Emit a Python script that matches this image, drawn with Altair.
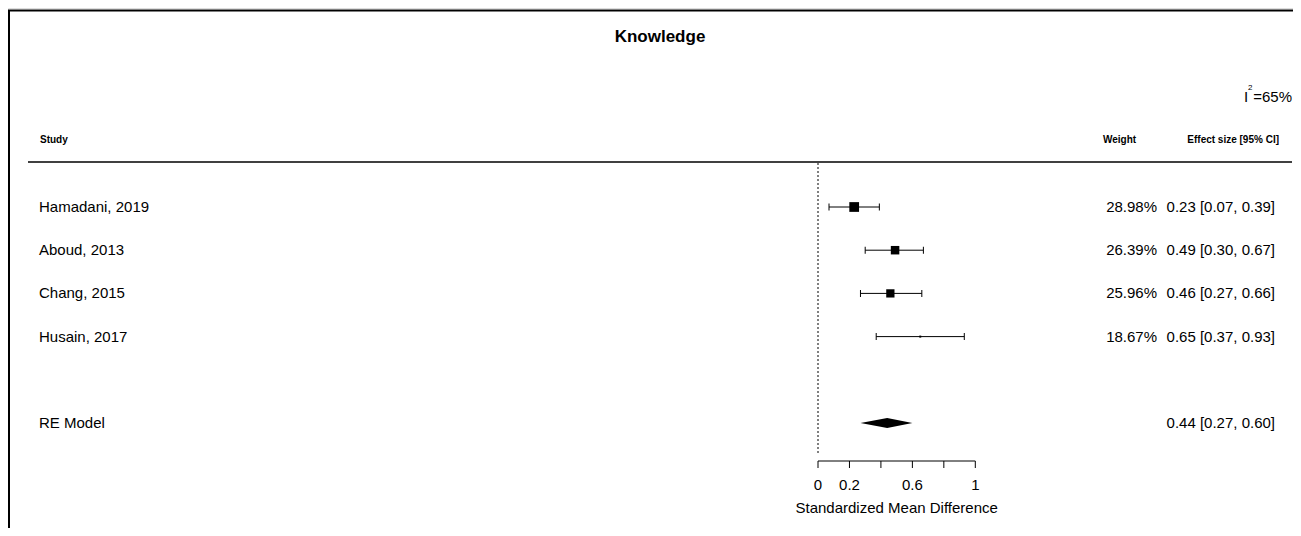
import altair as alt
import pandas as pd

# ---------------- data ----------------
studies = ["Hamadani, 2019", "Aboud, 2013", "Chang, 2015", "Husain, 2017"]
weights = [28.98, 26.39, 25.96, 18.67]
effects = [0.23, 0.49, 0.46, 0.65]
ci_low = [0.07, 0.30, 0.27, 0.37]
ci_high = [0.39, 0.67, 0.66, 0.93]
rows = [1, 2, 3, 4]

re_label = "RE Model"
re_effect = 0.44
re_low = 0.27
re_high = 0.60
re_row = 6

i2_value = 65
tick_values = [0, 0.2, 0.4, 0.6, 0.8, 1]
tick_labels = ["0", "0.2", "", "0.6", "", "1"]

# ---------------- layout (pixels inside plot area) ----------------
W, H = 1285, 520
X0_PX, UNIT_PX = 810.0, 157.3          # where x=0 sits, px per unit
ROW1_PX, ROW_STEP = 199.0, 43.2        # y of row 1, px between rows
FONT = "Liberation Sans"

x_scale = alt.Scale(domain=[-X0_PX / UNIT_PX, (W - X0_PX) / UNIT_PX], nice=False, zero=False)
y_scale = alt.Scale(domain=[1 - ROW1_PX / ROW_STEP, 1 + (H - ROW1_PX) / ROW_STEP],
                    reverse=True, nice=False, zero=False)

df = pd.DataFrame({
    "study": studies, "weight": weights, "est": effects,
    "lo": ci_low, "hi": ci_high, "row": rows,
})
df["wtxt"] = [f"{w:.2f}%" for w in weights]
df["citxt"] = [f"{e:.2f} [{l:.2f}, {h:.2f}]" for e, l, h in zip(effects, ci_low, ci_high)]

re_df = pd.DataFrame({"study": [re_label], "row": [re_row],
                      "citxt": [f"{re_effect:.2f} [{re_low:.2f}, {re_high:.2f}]"]})

half = 5.0 / ROW_STEP
dia_df = pd.DataFrame({
    "x": [re_low, re_effect, re_high],
    "top": [re_row, re_row - half, re_row],
    "bot": [re_row, re_row + half, re_row],
})

ticks_df = pd.DataFrame({"t": tick_values, "lab": tick_labels})

X = lambda f: alt.X(f, type="quantitative", scale=x_scale, axis=None)
Y = lambda f: alt.Y(f, type="quantitative", scale=y_scale, axis=None)

base = alt.Chart(df)

whisk = base.mark_rule(color="black", strokeWidth=1).encode(x=X("lo"), x2="hi", y=Y("row"))
caps = base.transform_fold(["lo", "hi"], as_=["k", "v"]).mark_tick(
    orient="vertical", size=7, thickness=1, color="black", opacity=1
).encode(x=X("v"), y=Y("row"))
squares = base.mark_square(color="black", opacity=1, filled=True).encode(
    x=X("est"), y=Y("row"),
    size=alt.Size("weight:Q", scale=alt.Scale(domain=[min(weights), max(weights)], range=[4, 95]), legend=None),
)
names = base.mark_text(align="left", baseline="middle", font=FONT, fontSize=15, color="black").encode(
    x=alt.value(31), y=Y("row"), text="study")
wtext = base.mark_text(align="right", baseline="middle", font=FONT, fontSize=15, color="black").encode(
    x=alt.value(1149), y=Y("row"), text="wtxt")
citext = base.mark_text(align="right", baseline="middle", font=FONT, fontSize=15, color="black").encode(
    x=alt.value(1267), y=Y("row"), text="citxt")

re_base = alt.Chart(re_df)
re_name = re_base.mark_text(align="left", baseline="middle", font=FONT, fontSize=15, color="black").encode(
    x=alt.value(31), y=Y("row"), text="study")
re_ci = re_base.mark_text(align="right", baseline="middle", font=FONT, fontSize=15, color="black").encode(
    x=alt.value(1267), y=Y("row"), text="citxt")
diamond = alt.Chart(dia_df).mark_area(color="black", orient="vertical", opacity=1).encode(
    x=X("x"), y=Y("top"), y2="bot")

zero_line = alt.Chart(pd.DataFrame({"z": [0]})).mark_rule(
    color="black", strokeWidth=1, strokeDash=[2, 2]).encode(
    x=X("z"), y=alt.value(155), y2=alt.value(447))

axis_line = alt.Chart(pd.DataFrame({"a": [tick_values[0]], "b": [tick_values[-1]]})).mark_rule(
    color="black", strokeWidth=1).encode(x=X("a"), x2="b", y=alt.value(453))
axis_ticks = alt.Chart(ticks_df).mark_rule(color="black", strokeWidth=1).encode(
    x=X("t"), y=alt.value(453), y2=alt.value(460))
axis_labels = alt.Chart(ticks_df).mark_text(font=FONT, fontSize=15, color="black", baseline="middle").encode(
    x=X("t"), y=alt.value(477), text="lab")
axis_title = alt.Chart(pd.DataFrame({"t": [0.5], "s": ["Standardized Mean Difference"]})).mark_text(
    font=FONT, fontSize=15, color="black", baseline="middle").encode(x=X("t"), y=alt.value(500), text="s")


def label(text, **kw):
    enc = {k: kw.pop(k) for k in ["x", "y"]}
    return alt.Chart(pd.DataFrame({"s": [text]})).mark_text(font=FONT, color="black", **kw).encode(
        text="s", **enc)


title_t = label("Knowledge", x=alt.value(652), y=alt.value(29), fontSize=17, fontWeight="bold",
                baseline="middle")
i2_rest = label(f"={i2_value}%", x=alt.value(1284), y=alt.value(89), fontSize=15, align="right",
                baseline="middle")
i2_I = label("I", x=alt.value(1236), y=alt.value(89), fontSize=15, align="left", baseline="middle")
i2_sup = label("2", x=alt.value(1240), y=alt.value(80), fontSize=8, align="left", baseline="middle")
study_h = label("Study", x=alt.value(32), y=alt.value(132), fontSize=10, fontWeight="bold",
                align="left", baseline="middle")
weight_h = label("Weight", x=alt.value(1095), y=alt.value(132), fontSize=10, fontWeight="bold",
                 align="left", baseline="middle")
eff_h = label("Effect size [95% CI]", x=alt.value(1271), y=alt.value(132), fontSize=10,
              fontWeight="bold", align="right", baseline="middle")

one = pd.DataFrame({"k": [1]})
header_line = alt.Chart(one).mark_rule(color="black", strokeWidth=1.3).encode(
    x=alt.value(20), x2=alt.value(1284), y=alt.value(154))
top_border = alt.Chart(one).mark_rule(color="black", strokeWidth=2).encode(
    x=alt.value(0), x2=alt.value(W), y=alt.value(2.5))
left_border = alt.Chart(one).mark_rule(color="black", strokeWidth=2).encode(
    x=alt.value(1), y=alt.value(2), y2=alt.value(H))

chart = alt.layer(
    top_border, left_border, header_line, zero_line,
    whisk, caps, squares, diamond,
    names, wtext, citext, re_name, re_ci,
    axis_line, axis_ticks, axis_labels, axis_title,
    title_t, i2_rest, i2_I, i2_sup, study_h, weight_h, eff_h,
).properties(
    width=W, height=H, padding=0, autosize=alt.AutoSizeParams(type="none"),
).configure_view(stroke=None).configure(background="white")

chart.save("out.html", embed_options={"renderer": "svg", "actions": False})
